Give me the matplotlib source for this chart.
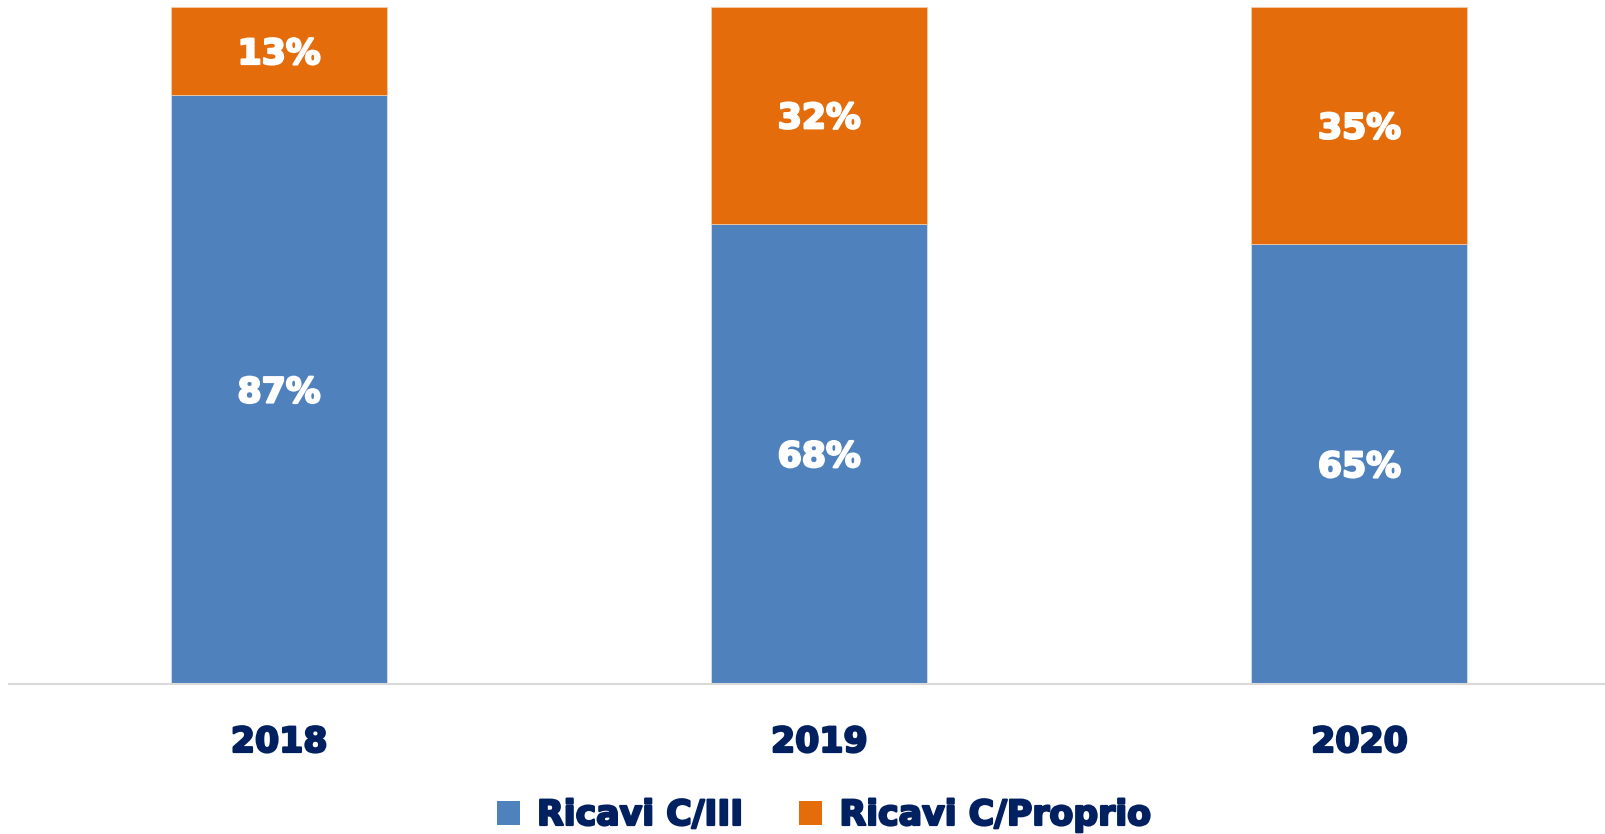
import matplotlib
matplotlib.use("Agg")
import matplotlib.pyplot as plt
import matplotlib.patheffects as pe
from matplotlib.patches import Patch

# Dati del grafico
anni = ["2018", "2019", "2020"]
ricavi_terzi = [87, 68, 65]      # Ricavi C/III (%)
ricavi_proprio = [13, 32, 35]    # Ricavi C/Proprio (%)

BLU = "#4F81BD"
ARANCIO = "#E46C0A"
NAVY = "#002060"
FONT = "DejaVu Sans"
FS = 25


def grassetto(colore):
    # un leggero contorno per imitare un carattere più pesante
    return [pe.withStroke(linewidth=1.6, foreground=colore)]


W, H = 1606, 834
fig = plt.figure(figsize=(W / 100, H / 100), dpi=100)

# area del grafico: asse x a 684 px dall'alto, 100% a 7 px
ax = fig.add_axes([9 / W, (H - 684) / H, 1 - 9 / W, 677 / H])

x = list(range(len(anni)))
larghezza = 0.4
ax.bar(x, ricavi_terzi, width=larghezza, color=BLU,
       edgecolor="#dce6f2", linewidth=0.5)
ax.bar(x, ricavi_proprio, width=larghezza, bottom=ricavi_terzi,
       color=ARANCIO, edgecolor="#f5d0b0", linewidth=0.5)

ax.set_xlim(-0.5, 2 + (W - 1359.5) / 540)
ax.set_ylim(0, 100)

# etichette percentuali al centro di ogni segmento
for i in x:
    for base, val in [(0, ricavi_terzi[i]), (ricavi_terzi[i], ricavi_proprio[i])]:
        ax.annotate(f"{val}%", xy=(i, base + val / 2), xytext=(0, -13),
                    textcoords="offset pixels", ha="center", va="baseline",
                    color="white", fontsize=FS, fontweight="bold", family=FONT,
                    path_effects=grassetto("white"))

# etichette degli anni sotto l'asse
for i, anno in enumerate(anni):
    ax.annotate(anno, xy=(i, 0), xycoords=("data", "axes fraction"),
                xytext=(0, -68), textcoords="offset pixels",
                ha="center", va="baseline", color=NAVY,
                fontsize=FS, fontweight="bold", family=FONT,
                path_effects=grassetto(NAVY))

ax.set_xticks([])
ax.set_yticks([])
for lato in ["top", "right", "left"]:
    ax.spines[lato].set_visible(False)
ax.spines["bottom"].set_color("#d9d9d9")
ax.spines["bottom"].set_linewidth(1.5)

# legenda
handles = [Patch(facecolor=BLU), Patch(facecolor=ARANCIO)]
leg = fig.legend(handles, ["Ricavi C/III", "Ricavi C/Proprio"],
                 loc="center", bbox_to_anchor=(824 / W, (H - 815) / H),
                 ncol=2, frameon=False, borderpad=0,
                 handlelength=0.66, handleheight=0.66, handletextpad=0.5,
                 columnspacing=1.6,
                 prop={"family": FONT, "weight": "bold", "size": FS})
for t in leg.get_texts():
    t.set_color(NAVY)
    t.set_path_effects(grassetto(NAVY))

fig.savefig("out.png", dpi=100)
